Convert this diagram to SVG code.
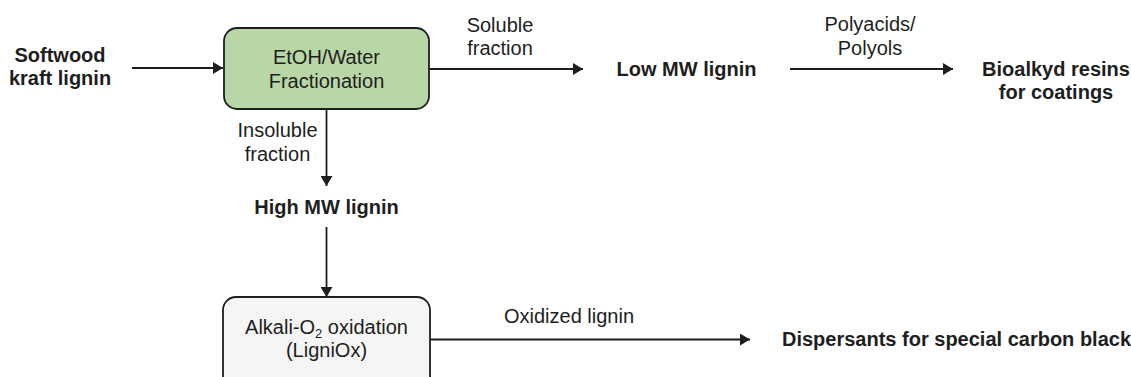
<svg xmlns="http://www.w3.org/2000/svg" width="1131" height="377" viewBox="0 0 1131 377">
  <style>
    text { font-family: "Liberation Sans", Arial, sans-serif; font-size: 20px; fill: #1e1e1e; text-anchor: middle; }
    .b { font-weight: bold; }
    .conn { stroke: #1e1e1e; stroke-width: 1.8; fill: none; marker-end: url(#ah); }
    .box { stroke: #1e1e1e; stroke-width: 1.8; }
  </style>
  <defs>
    <marker id="ah" viewBox="0 0 10 10" refX="10" refY="5" markerWidth="10" markerHeight="12" markerUnits="userSpaceOnUse" orient="auto" preserveAspectRatio="none">
      <path d="M0,0 L10,5 L0,10 z" fill="#1e1e1e"/>
    </marker>
  </defs>
  <rect width="1131" height="377" fill="#ffffff"/>

  <g id="connectors">
    <line class="conn" x1="132" y1="68" x2="223" y2="68"/>
    <line class="conn" x1="429" y1="69" x2="583" y2="69"/>
    <line class="conn" x1="790" y1="69" x2="953" y2="69"/>
    <line class="conn" x1="326.5" y1="109" x2="326.5" y2="186"/>
    <line class="conn" x1="326.5" y1="227" x2="326.5" y2="297"/>
    <line class="conn" x1="430" y1="339.5" x2="750" y2="339.5"/>
    <text x="500" y="31.5">Soluble</text>
    <text x="500" y="55">fraction</text>
    <text x="870" y="31">Polyacids/</text>
    <text x="870" y="54.5">Polyols</text>
    <text x="277.5" y="137">Insoluble</text>
    <text x="277.5" y="161">fraction</text>
    <text x="569" y="323">Oxidized lignin</text>
  </g>

  <g id="softwood">
    <text class="b" x="60" y="62">Softwood</text>
    <text class="b" x="60" y="85">kraft lignin</text>
  </g>

  <g id="fractionation">
    <rect class="box" x="224" y="28" width="205" height="81" rx="13" ry="13" fill="#b9d7a6"/>
    <text x="326.5" y="64">EtOH/Water</text>
    <text x="326.5" y="88">Fractionation</text>
  </g>

  <g id="low-mw">
    <text class="b" x="686.5" y="76">Low MW lignin</text>
  </g>

  <g id="bioalkyd">
    <text class="b" x="1056" y="76">Bioalkyd resins</text>
    <text class="b" x="1056" y="99">for coatings</text>
  </g>

  <g id="high-mw">
    <text class="b" x="326.5" y="213.5">High MW lignin</text>
  </g>

  <g id="oxidation">
    <rect class="box" x="223" y="297" width="207" height="100" rx="13" ry="13" fill="#f5f5f5"/>
    <text x="326.5" y="334">Alkali-O<tspan font-size="13" dy="4">2</tspan><tspan dy="-4"> oxidation</tspan></text>
    <text x="326.5" y="357">(LigniOx)</text>
  </g>

  <g id="dispersants">
    <text class="b" x="782" y="346" style="text-anchor:start">Dispersants for special carbon black</text>
  </g>
</svg>
